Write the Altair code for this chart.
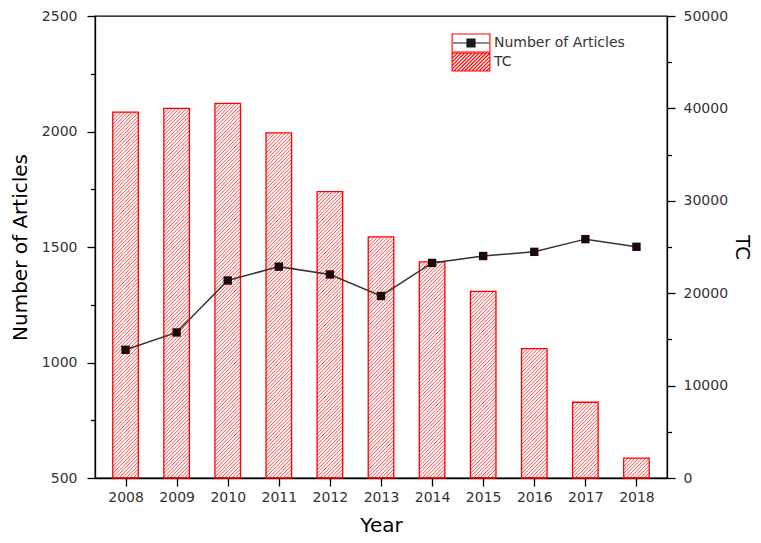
import altair as alt
import pandas as pd

# ---- data ----
YEARS = [2008, 2009, 2010, 2011, 2012, 2013, 2014, 2015, 2016, 2017, 2018]
ARTICLES = [1055, 1130, 1355, 1415, 1381, 1288, 1431, 1461, 1479, 1534, 1501]
TC = [39600, 40000, 40550, 37350, 31000, 26100, 23400, 20200, 14000, 8200, 2150]
SERIES = ["Number of Articles", "TC"]

# ---- layout ----
W, H = 572, 462
PAD = {"left": 87, "top": 8, "right": 86, "bottom": 57}
X_DOMAIN = [2007.5, 2018.5]
Y1_DOMAIN = [500, 2500]
Y2_DOMAIN = [0, 50000]
BAR_HALF = 0.25          # half bar width in years
HATCH_STEP = 3.6         # horizontal hatch spacing in px
FONT = "DejaVu Sans"

px_per_year = W / (X_DOMAIN[1] - X_DOMAIN[0])
px_per_tc = H / (Y2_DOMAIN[1] - Y2_DOMAIN[0])
bar_w_px = 2 * BAR_HALF * px_per_year

df = pd.DataFrame({"Year": YEARS, "Articles": ARTICLES, "TC": TC})
base = alt.Chart(df)

x_ticks = [y + h for y in YEARS for h in (0, 0.5)][:-1]
y1_ticks = list(range(Y1_DOMAIN[0], Y1_DOMAIN[1] + 1, 250))
y2_ticks = list(range(Y2_DOMAIN[0], Y2_DOMAIN[1] + 1, 5000))


def tick_size(test):
    return {"condition": {"test": test, "value": 4.5}, "value": 8}


x_scale = alt.Scale(domain=X_DOMAIN, nice=False, zero=False)
y1_scale = alt.Scale(domain=Y1_DOMAIN, nice=False, zero=False)
y2_scale = alt.Scale(domain=Y2_DOMAIN, nice=False)

x_axis = alt.Axis(values=x_ticks, format="d", labelOverlap=False,
                  labelExpr="datum.value % 1 === 0 ? datum.label : ''",
                  tickSize=tick_size("datum.value % 1 !== 0"),
                  labelPadding=4, titleY=PAD["bottom"], titleBaseline="bottom")
y1_axis = alt.Axis(values=y1_ticks, format="d", labelOverlap=False, orient="left",
                   labelExpr="datum.value % 500 === 0 ? datum.label : ''",
                   tickSize=tick_size("datum.value % 500 !== 0"),
                   labelPadding=10, titleX=-75, titleY=H / 2, titleAngle=270,
                   titleBaseline="middle", titleAlign="center")
y2_axis = alt.Axis(values=y2_ticks, format="d", labelOverlap=False, orient="right",
                   labelExpr="datum.value % 10000 === 0 ? datum.label : ''",
                   tickSize=tick_size("datum.value % 10000 !== 0"),
                   labelPadding=8, titleX=74, titleY=H / 2, titleAngle=90,
                   titleBaseline="middle", titleAlign="center")

X = alt.X("Year:Q", scale=x_scale, axis=x_axis, title="Year")

# hatch lines inside each TC bar (45 degrees in screen space)
hatch = base.transform_calculate(
    hb=f"datum.TC * {px_per_tc}"
).transform_calculate(
    cs=f"sequence({-bar_w_px + HATCH_STEP / 2}, datum.hb, {HATCH_STEP})"
).transform_flatten(["cs"]).transform_calculate(
    u0="max(0, -datum.cs)"
).transform_calculate(
    u1=f"min({bar_w_px}, datum.hb - datum.cs)"
).transform_calculate(
    hx0=f"datum.Year - {BAR_HALF} + datum.u0 / {px_per_year}"
).transform_calculate(
    hx1=f"datum.Year - {BAR_HALF} + datum.u1 / {px_per_year}"
).transform_calculate(
    hy0=f"(datum.u0 + datum.cs) / {px_per_tc}"
).transform_calculate(
    hy1=f"(datum.u1 + datum.cs) / {px_per_tc}"
).mark_rule(color="#ff3333", strokeWidth=0.9).encode(
    x=alt.X("hx0:Q", scale=x_scale, axis=x_axis, title="Year"),
    x2="hx1:Q",
    y=alt.Y("hy0:Q", scale=y2_scale, axis=y2_axis, title="TC"),
    y2="hy1:Q",
)

bars = base.transform_calculate(
    bx0=f"datum.Year - {BAR_HALF}", bx1=f"datum.Year + {BAR_HALF}"
).mark_bar(fillOpacity=0, stroke="#ff0000", strokeWidth=1.3, orient="vertical").encode(
    x=alt.X("bx0:Q", scale=x_scale, axis=x_axis, title="Year"),
    x2="bx1:Q",
    y=alt.Y("TC:Q", scale=y2_scale, axis=y2_axis, title="TC"),
    y2=alt.datum(0),
)

line = base.mark_line(color="#333333", strokeWidth=1.5).encode(
    x=X, y=alt.Y("Articles:Q", scale=y1_scale, axis=y1_axis, title="Number of Articles")
)
points = base.mark_point(shape="square", filled=True, size=70, color="#1c0808", opacity=1).encode(
    x=X, y=alt.Y("Articles:Q", scale=y1_scale, axis=y1_axis, title="Number of Articles")
)

# ---- legend symbols (paths in symbol units, 1 unit = 9 px) ----
HW, HH = 2.1, 1.0
PATH_BOX = f"M{-HW},{-HH}H{HW}V{HH}H{-HW}Z"
art_parts = ["M-2.0,0H2.0", "M-0.45,-0.45H0.45V0.45H-0.45Z"]
for i in range(10):
    yy = -0.45 + i * 0.1
    art_parts.append(f"M-0.45,{yy:.2f}H0.45")
PATH_ART = "".join(art_parts)
parts = [PATH_BOX]
step = HATCH_STEP / 9
a = -HW - 2 * HH + step / 2
while a < HW:
    s0 = max(0.0, -HW - a)
    s1 = min(2 * HH, HW - a)
    if s1 > s0:
        parts.append(f"M{a + s0:.3f},{HH - s0:.3f}L{a + s1:.3f},{HH - s1:.3f}")
    a += step
PATH_TC = "".join(parts)

LEG_X, LEG_Y, ROW = 366, 17, 19
leg_common = dict(orient="none", legendX=LEG_X, title=None,
                  symbolSize=324, symbolStrokeWidth=1.1, symbolOpacity=1,
                  labelFont=FONT, labelFontSize=14, labelColor="#333333",
                  labelOffset=13, padding=0)


def legend_layer(field, label, path, color, y, blank=False):
    d = pd.DataFrame({field: [label]})
    extra = {"labelExpr": "''"} if blank else {}
    return alt.Chart(d).mark_point(opacity=0, color=color, filled=False).encode(
        shape=alt.Shape(f"{field}:N", scale=alt.Scale(domain=[label], range=[path]),
                        legend=alt.Legend(legendY=y, symbolStrokeColor=color,
                                          symbolFillColor="transparent",
                                          **leg_common, **extra))
    )


leg_art = legend_layer("s1", SERIES[0], PATH_ART, "#1a1a1a", LEG_Y)
leg_box = legend_layer("s3", SERIES[0], PATH_BOX, "#ff0000", LEG_Y, blank=True)
leg_tc = legend_layer("s2", SERIES[1], PATH_TC, "#ff0000", LEG_Y + ROW)

chart = alt.layer(
    alt.layer(hatch, bars),
    alt.layer(line, points),
    leg_box, leg_art, leg_tc,
).resolve_scale(
    y="independent", shape="independent"
).properties(
    width=W, height=H,
    padding=PAD,
    autosize=alt.AutoSizeParams(type="none"),
    background="white",
).configure_axis(
    grid=False, domainColor="black", domainWidth=1.3, tickColor="black", tickWidth=1.3,
    labelFont=FONT, labelFontSize=14, labelColor="#333333",
    titleFont=FONT, titleFontSize=20, titleFontWeight="normal", titleColor="black",
).configure_view(stroke="black", strokeWidth=1.3)

chart.save("out.html", embed_options={"renderer": "svg", "actions": False})
